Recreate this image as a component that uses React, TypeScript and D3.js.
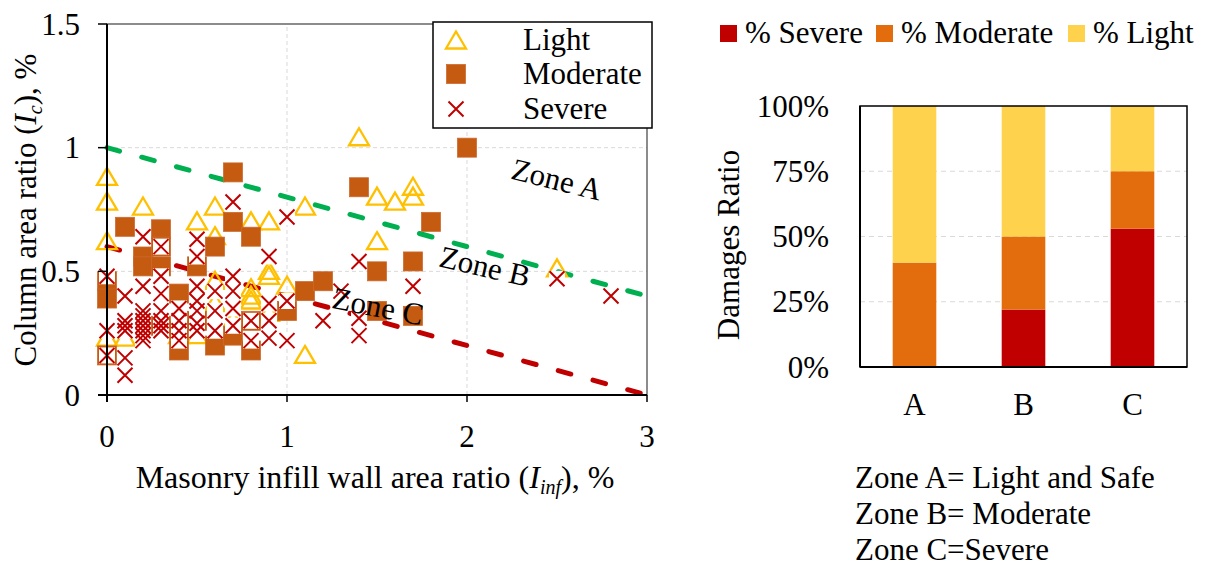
import React from 'react';
import * as d3 from 'd3';

// Field survey points: [infill wall area ratio %, column area ratio %]
const lightPoints: [number, number][] = [
  [0, 0.88], [0, 0.78], [0, 0.62], [0, 0.23], [0.1, 0.23], [0.2, 0.76], [0.4, 0.24],
  [0.5, 0.7], [0.5, 0.24], [0.6, 0.76], [0.6, 0.64], [0.6, 0.46], [0.6, 0.37], [0.7, 0.3],
  [0.8, 0.7], [0.8, 0.43], [0.8, 0.4], [0.8, 0.38], [0.9, 0.7], [0.9, 0.5], [0.9, 0.48],
  [0.9, 0.33], [1.0, 0.44], [1.1, 0.76], [1.1, 0.16], [1.4, 1.04], [1.5, 0.8], [1.5, 0.62],
  [1.6, 0.78], [1.7, 0.84], [1.7, 0.8], [2.5, 0.51],
];

const moderatePoints: [number, number][] = [
  [0, 0.46], [0, 0.39], [0, 0.16], [0.1, 0.68], [0.2, 0.56], [0.2, 0.52], [0.3, 0.67],
  [0.3, 0.6], [0.3, 0.52], [0.3, 0.28], [0.4, 0.41], [0.4, 0.26], [0.4, 0.18], [0.5, 0.52],
  [0.5, 0.3], [0.6, 0.6], [0.6, 0.2], [0.7, 0.9], [0.7, 0.7], [0.7, 0.24], [0.8, 0.64],
  [0.8, 0.3], [0.8, 0.18], [1.0, 0.34], [1.1, 0.42], [1.2, 0.46], [1.4, 0.84], [1.5, 0.5],
  [1.5, 0.34], [1.7, 0.54], [1.7, 0.32], [1.8, 0.7], [2.0, 1.0],
];

const severePoints: [number, number][] = [
  [0, 0.48], [0, 0.26], [0, 0.16],
  [0.1, 0.4], [0.1, 0.3], [0.1, 0.28], [0.1, 0.26], [0.1, 0.15], [0.1, 0.08],
  [0.2, 0.64], [0.2, 0.44], [0.2, 0.34], [0.2, 0.32], [0.2, 0.3], [0.2, 0.28], [0.2, 0.26],
  [0.2, 0.24], [0.2, 0.22],
  [0.3, 0.6], [0.3, 0.48], [0.3, 0.41], [0.3, 0.34], [0.3, 0.3], [0.3, 0.28], [0.3, 0.26],
  [0.4, 0.35], [0.4, 0.3], [0.4, 0.26], [0.4, 0.22],
  [0.5, 0.63], [0.5, 0.56], [0.5, 0.44], [0.5, 0.38], [0.5, 0.34], [0.5, 0.29], [0.5, 0.26],
  [0.6, 0.42], [0.6, 0.34], [0.6, 0.26],
  [0.7, 0.78], [0.7, 0.48], [0.7, 0.42], [0.7, 0.35], [0.7, 0.28],
  [0.8, 0.3], [0.8, 0.22],
  [0.9, 0.56], [0.9, 0.37], [0.9, 0.3], [0.9, 0.23],
  [1.0, 0.72], [1.0, 0.38], [1.0, 0.22],
  [1.2, 0.3], [1.3, 0.42], [1.4, 0.54], [1.4, 0.31], [1.4, 0.24],
  [1.7, 0.44], [2.5, 0.47], [2.8, 0.4],
];

// Zone boundary lines
const upperBoundary: [number, number][] = [[0, 1], [3, 0.4]];
const lowerBoundary: [number, number][] = [[0, 0.6], [3, 0]];

const xTicks = [0, 1, 2, 3];
const yTicks = [0, 0.5, 1, 1.5];
const yTickLabels = ['0', '0.5', '1', '1.5'];

// Damage shares per zone (%)
const zones = ['A', 'B', 'C'];
const severePct = [0, 22, 53];
const moderatePct = [40, 28, 22];
const lightPct = [60, 50, 25];
const pctTicks = [0, 25, 50, 75, 100];

const zoneNotes = ['Zone A= Light and Safe', 'Zone B= Moderate', 'Zone C=Severe'];

const FONT = '"Liberation Serif", "Times New Roman", serif';
const FS = 31;

const C_LIGHT = '#FFC000';
const C_MOD = '#C55A11';
const C_SEV = '#C00000';
const BAR_COLORS: Record<string, string> = {
  severe: '#C00000',
  moderate: '#E36C0C',
  light: '#FFD24E',
};

const Triangle = ({ cx, cy }: { cx: number; cy: number }) => (
  <path
    d={`M${cx},${cy - 9.5} L${cx + 10},${cy + 7.5} L${cx - 10},${cy + 7.5} Z`}
    fill="none"
    stroke={C_LIGHT}
    strokeWidth={2.3}
  />
);

const Square = ({ cx, cy }: { cx: number; cy: number }) => (
  <rect x={cx - 9.5} y={cy - 9.5} width={19} height={19} fill={C_MOD} stroke="#CC6A2E" strokeWidth={0.8} />
);

const Cross = ({ cx, cy }: { cx: number; cy: number }) => (
  <path
    d={`M${cx - 7.5},${cy - 7.5} L${cx + 7.5},${cy + 7.5} M${cx - 7.5},${cy + 7.5} L${cx + 7.5},${cy - 7.5}`}
    stroke={C_SEV}
    strokeWidth={2}
    fill="none"
  />
);

function ScatterPanel() {
  const x = d3.scaleLinear().domain([0, 3]).range([107, 647]);
  const y = d3.scaleLinear().domain([0, 1.5]).range([395, 24]);
  const line = d3
    .line<[number, number]>()
    .x((d) => x(d[0]))
    .y((d) => y(d[1]));

  const [x0, x1] = x.range();
  const [y0, y1] = y.range();

  return (
    <g>
      {/* grid */}
      {xTicks.slice(1, 3).map((t) => (
        <line key={'gx' + t} x1={x(t)} x2={x(t)} y1={y0} y2={y1} stroke="#D9D9D9" strokeDasharray="4 3" />
      ))}
      {yTicks.slice(1, 3).map((t) => (
        <line key={'gy' + t} x1={x0} x2={x1} y1={y(t)} y2={y(t)} stroke="#D9D9D9" strokeDasharray="4 3" />
      ))}
      <rect x={x0} y={y1} width={x1 - x0} height={y0 - y1} fill="none" stroke="#404040" strokeWidth={1.2} />

      {/* zone boundaries */}
      <path d={line(upperBoundary) || ''} stroke="#00B050" strokeWidth={5} strokeDasharray="13 23" strokeLinecap="round" fill="none" />
      <path d={line(lowerBoundary) || ''} stroke="#C00000" strokeWidth={5} strokeDasharray="13 23" strokeLinecap="round" fill="none" />

      {/* markers */}
      {lightPoints.map((d, i) => (
        <Triangle key={'l' + i} cx={x(d[0])} cy={y(d[1])} />
      ))}
      {moderatePoints.map((d, i) => (
        <Square key={'m' + i} cx={x(d[0])} cy={y(d[1])} />
      ))}
      {severePoints.map((d, i) => (
        <rect key={'sb' + i} x={x(d[0]) - 8} y={y(d[1]) - 8} width={16} height={16} fill="#fff" />
      ))}
      {severePoints.map((d, i) => (
        <Cross key={'s' + i} cx={x(d[0])} cy={y(d[1])} />
      ))}

      {/* axes */}
      <line x1={x0} x2={x0} y1={y1} y2={y0 + 7} stroke="#000" strokeWidth={2} />
      <line x1={x0 - 9} x2={x1} y1={y0} y2={y0} stroke="#000" strokeWidth={2} />
      {yTicks.map((t) => (
        <line key={'yt' + t} x1={x0 - 9} x2={x0} y1={y(t)} y2={y(t)} stroke="#000" strokeWidth={1.5} />
      ))}
      {xTicks.map((t) => (
        <line key={'xt' + t} x1={x(t)} x2={x(t)} y1={y0} y2={y0 + 7} stroke="#000" strokeWidth={1.5} />
      ))}
      {yTicks.map((t, i) => (
        <text key={'yl' + t} x={x0 - 27} y={y(t)} dy="0.34em" textAnchor="end" fontSize={FS}>
          {yTickLabels[i]}
        </text>
      ))}
      {xTicks.map((t) => (
        <text key={'xl' + t} x={x(t)} y={y0 + 52} textAnchor="middle" fontSize={FS}>
          {String(t)}
        </text>
      ))}

      {/* axis titles */}
      <text x={375} y={488} textAnchor="middle" fontSize={32}>
        Masonry infill wall area ratio (<tspan fontStyle="italic">I</tspan>
        <tspan fontStyle="italic" fontSize={20} dy={6}>inf</tspan>
        <tspan dy={-6}>), %</tspan>
      </text>
      <text transform="translate(36,210) rotate(-90)" textAnchor="middle" fontSize={FS}>
        Column area ratio (<tspan fontStyle="italic">I</tspan>
        <tspan fontStyle="italic" fontSize={20} dy={6}>c</tspan>
        <tspan dy={-6}>), %</tspan>
      </text>

      {/* zone labels */}
      <text transform="translate(557,179) rotate(14)" textAnchor="middle" dy="0.35em" fontSize={FS}>Zone A</text>
      <text transform="translate(485,266) rotate(13)" textAnchor="middle" dy="0.35em" fontSize={FS}>Zone B</text>
      <text transform="translate(378,306) rotate(11)" textAnchor="middle" dy="0.35em" fontSize={FS}>Zone C</text>

      {/* legend */}
      <rect x={433} y={22} width={219} height={106} fill="#fff" stroke="#000" strokeWidth={1.5} />
      <Triangle cx={456} cy={41} />
      <Square cx={456} cy={74} />
      <rect x={448} y={101} width={16} height={16} fill="#fff" />
      <Cross cx={456} cy={109} />
      <text x={523} y={50} fontSize={FS}>Light</text>
      <text x={523} y={84} fontSize={FS}>Moderate</text>
      <text x={523} y={119} fontSize={FS}>Severe</text>
    </g>
  );
}

function BarPanel() {
  const x = d3.scaleBand<string>().domain(zones).range([860, 1187]).paddingInner(0.6).paddingOuter(0.3);
  const y = d3.scaleLinear().domain([0, 100]).range([367, 106]);
  const rows = zones.map((z, i) => ({
    zone: z,
    severe: severePct[i],
    moderate: moderatePct[i],
    light: lightPct[i],
  }));
  const keys = ['severe', 'moderate', 'light'];
  const stacked = d3.stack<any>().keys(keys)(rows);
  const [x0, x1] = x.range();
  const [y0, y1] = y.range();

  const legendItems = [
    { key: 'severe', label: '% Severe', sx: 720 },
    { key: 'moderate', label: '% Moderate', sx: 876 },
    { key: 'light', label: '% Light', sx: 1068 },
  ];

  return (
    <g>
      {pctTicks.slice(1, 4).map((t) => (
        <line key={'g' + t} x1={x0} x2={x1} y1={y(t)} y2={y(t)} stroke="#D9D9D9" strokeDasharray="5 4" />
      ))}
      {stacked.map((layer) => (
        <g key={layer.key} fill={BAR_COLORS[layer.key]}>
          {layer.map((seg, i) =>
            seg[1] > seg[0] ? (
              <rect
                key={i}
                x={x(zones[i])}
                y={y(seg[1])}
                width={x.bandwidth()}
                height={y(seg[0]) - y(seg[1])}
              />
            ) : null
          )}
        </g>
      ))}
      <rect x={x0} y={y1} width={x1 - x0} height={y0 - y1} fill="none" stroke="#000" strokeWidth={1.5} />
      <line x1={x0} x2={x0} y1={y1} y2={y0} stroke="#000" strokeWidth={2} />
      <line x1={x0} x2={x1} y1={y0} y2={y0} stroke="#000" strokeWidth={2} />
      {pctTicks.map((t) => (
        <text key={'t' + t} x={829} y={y(t)} dy="0.34em" textAnchor="end" fontSize={FS}>
          {t + '%'}
        </text>
      ))}
      {zones.map((z) => (
        <text key={z} x={(x(z) || 0) + x.bandwidth() / 2} y={415} textAnchor="middle" fontSize={FS}>
          {z}
        </text>
      ))}
      <text transform="translate(739,245) rotate(-90)" textAnchor="middle" fontSize={FS}>
        Damages Ratio
      </text>
      {legendItems.map((it) => (
        <g key={it.key}>
          <rect x={it.sx} y={25} width={17} height={17} fill={BAR_COLORS[it.key]} />
          <text x={it.sx + 25} y={43} fontSize={FS}>{it.label}</text>
        </g>
      ))}
      {zoneNotes.map((n, i) => (
        <text key={n} x={855} y={488 + i * 36} fontSize={FS}>
          {n}
        </text>
      ))}
    </g>
  );
}

export default function App() {
  return (
    <svg
      width={1206}
      height={567}
      style={{ position: 'absolute', left: 0, top: 0, background: '#fff', fontFamily: FONT }}
    >
      <style>{`text, tspan { font-family: "Liberation Serif", "Times New Roman", serif; }`}</style>
      <rect width={1206} height={567} fill="#fff" />
      <ScatterPanel />
      <BarPanel />
    </svg>
  );
}
